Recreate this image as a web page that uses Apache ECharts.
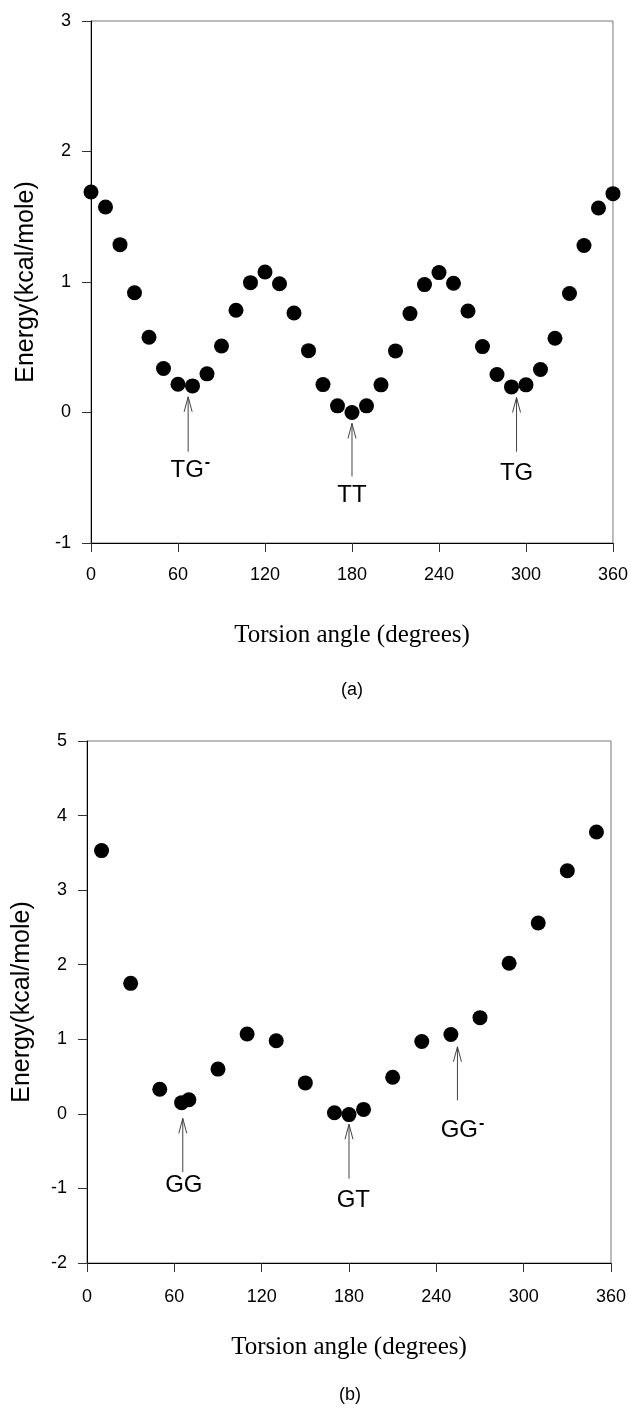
<!DOCTYPE html>
<html>
<head>
<meta charset="utf-8">
<script src="https://cdn.jsdelivr.net/npm/echarts@6/dist/echarts.min.js"></script>
<style>
html,body{margin:0;padding:0;background:#fff;}
#chart{width:631px;height:1409px;}
</style>
</head>
<body>
<div id="chart"></div>
<script>
// ---- Data: panel (a) ----
const anglesA = [0,10,20,30,40,50,60,70,80,90,100,110,120,130,140,150,160,170,180,190,200,210,220,230,240,250,260,270,280,290,300,310,320,330,340,350,360];
const energyA = [1.69,1.575,1.286,0.918,0.577,0.337,0.217,0.204,0.296,0.51,0.783,0.995,1.077,0.987,0.763,0.474,0.214,0.051,0.0,0.051,0.212,0.472,0.758,0.98,1.072,0.99,0.778,0.505,0.291,0.196,0.212,0.329,0.569,0.912,1.28,1.567,1.677];
// annotations (a)
const annoALabels = ['TG⁻','TT','TG'];
const annoAX      = [67, 180, 293.5];
const annoATip    = [0.12, -0.084, 0.115];
const annoATail   = [-0.30, -0.49, -0.30];
const annoALabelX = [68.5, 180, 293.5];
const annoALabelY = [-0.44, -0.635, -0.47];

// ---- Data: panel (b) ----
const anglesB = [10,30,50,65,70,90,110,130,150,170,180,190,210,230,250,270,290,310,330,350];
const energyB = [3.53,1.75,0.33,0.15,0.19,0.60,1.07,0.98,0.415,0.015,-0.01,0.06,0.49,0.97,1.065,1.29,2.02,2.56,3.26,3.78];
const annoBLabels = ['GG','GT','GG⁻'];
const annoBX      = [65.8, 180, 254.5];
const annoBTip    = [-0.06, -0.14, 0.90];
const annoBTail   = [-0.78, -0.87, 0.18];
const annoBLabelX = [66.5, 183, 258];
const annoBLabelY = [-0.96, -1.16, -0.22];

// tick settings
const xTicks = {min:0, max:360, interval:60};
const yTicksA = {min:-1, max:3, interval:1};
const yTicksB = {min:-2, max:5, interval:1};

const SANS = 'Liberation Sans, Arial, sans-serif';
const SERIF = 'Liberation Serif, Times New Roman, serif';

function annoData(xs, tips, tails, lxs, lys){
  return xs.map((x,i)=>[x, tips[i], tails[i], lxs[i], lys[i], i]);
}
function makeRender(labels){
  return function(params, api){
    const x = api.value(0), tipV = api.value(1), tailV = api.value(2);
    const lx = api.value(3), ly = api.value(4), idx = api.value(5);
    const tip = api.coord([x, tipV]);
    const tail = api.coord([x, tailV]);
    const lab = api.coord([lx, ly]);
    const st = {stroke:'#444', lineWidth:1, fill:null};
    const txt = labels[idx].replace('⁻','{s|-}');
    return {type:'group', children:[
      {type:'line', shape:{x1:tail[0], y1:tail[1], x2:tip[0], y2:tip[1]}, style:st},
      {type:'polyline', shape:{points:[[tip[0]-4, tip[1]+15],[tip[0], tip[1]],[tip[0]+4, tip[1]+15]]}, style:st},
      {type:'text', x:lab[0], y:lab[1], style:{text:txt, fill:'#000', font:'24px '+SANS, align:'center', verticalAlign:'middle',
        rich:{s:{fontSize:16, fontWeight:'bold', fontFamily:SANS, verticalAlign:'top', padding:[0,0,14,1], fill:'#000'}}}}
    ]};
  };
}

function xAxisCfg(gridIndex, gap, lblMargin){
  return {
    type:'value', gridIndex, min:xTicks.min, max:xTicks.max, interval:xTicks.interval,
    name:'Torsion angle (degrees)', nameLocation:'middle', nameGap:gap,
    nameTextStyle:{fontFamily:SERIF, fontSize:25, color:'#000'},
    axisLine:{show:true, onZero:false, lineStyle:{color:'#000', width:1}},
    axisTick:{show:true, inside:false, length:9, lineStyle:{color:'#333'}},
    axisLabel:{fontFamily:SANS, fontSize:18, color:'#000', margin:lblMargin},
    splitLine:{show:false}
  };
}
function yAxisCfg(gridIndex, t){
  return {
    type:'value', gridIndex, min:t.min, max:t.max, interval:t.interval,
    name:'Energy(kcal/mole)', nameLocation:'middle', nameGap:52, nameRotate:90,
    nameTextStyle:{fontFamily:SANS, fontSize:25, color:'#000'},
    axisLine:{show:true, onZero:false, lineStyle:{color:'#000', width:1}},
    axisTick:{show:true, inside:false, length:9, lineStyle:{color:'#333'}},
    axisLabel:{fontFamily:SANS, fontSize:18, color:'#000', margin:20},
    splitLine:{show:false}
  };
}

const chart = echarts.init(document.getElementById('chart'), null, {renderer:'canvas'});
chart.setOption({
  backgroundColor:'#fff',
  animation:false,
  grid:[
    {left:91, top:21, width:523, height:522, show:true, borderColor:'#777', borderWidth:1, backgroundColor:'transparent'},
    {left:87, top:741, width:524, height:522, show:true, borderColor:'#777', borderWidth:1, backgroundColor:'transparent'}
  ],
  xAxis:[xAxisCfg(0, 80, 23), xAxisCfg(1, 72, 25)],
  yAxis:[yAxisCfg(0, yTicksA), yAxisCfg(1, yTicksB)],
  graphic:[
    {type:'text', x:352, y:690, style:{text:'(a)', font:'18px '+SANS, fill:'#000', align:'center', verticalAlign:'middle'}},
    {type:'text', x:350, y:1395, style:{text:'(b)', font:'18px '+SANS, fill:'#000', align:'center', verticalAlign:'middle'}}
  ],
  series:[
    {type:'scatter', xAxisIndex:0, yAxisIndex:0, symbol:'circle', symbolSize:15,
     itemStyle:{color:'#000', opacity:1}, data:anglesA.map((a,i)=>[a, energyA[i]])},
    {type:'scatter', xAxisIndex:1, yAxisIndex:1, symbol:'circle', symbolSize:15,
     itemStyle:{color:'#000', opacity:1}, data:anglesB.map((a,i)=>[a, energyB[i]])},
    {type:'custom', xAxisIndex:0, yAxisIndex:0, renderItem:makeRender(annoALabels),
     data:annoData(annoAX, annoATip, annoATail, annoALabelX, annoALabelY), clip:false},
    {type:'custom', xAxisIndex:1, yAxisIndex:1, renderItem:makeRender(annoBLabels),
     data:annoData(annoBX, annoBTip, annoBTail, annoBLabelX, annoBLabelY), clip:false}
  ]
});
</script>
</body>
</html>
